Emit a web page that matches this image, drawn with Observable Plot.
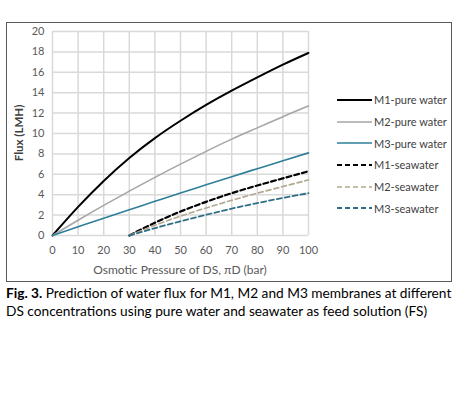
<!DOCTYPE html>
<html><head><meta charset="utf-8">
<script src="https://cdn.jsdelivr.net/npm/d3@7"></script>
<script src="https://cdn.jsdelivr.net/npm/@observablehq/plot@0.6"></script>
<style>
html,body{margin:0;padding:0;background:#fff;}
body{width:458px;height:393px;position:relative;overflow:hidden;font-family:Lato,"Open Sans",sans-serif;}
#box{position:absolute;left:6px;top:22px;width:444px;height:258px;border:1px solid #5a5a5a;}
#chart{position:absolute;left:0;top:0;}
#ylab{position:absolute;left:18px;top:133px;transform:translate(-50%,-50%) rotate(-90deg);font-weight:bold;font-size:11.5px;color:#404040;white-space:nowrap;}
#xlab{position:absolute;left:180px;top:269px;transform:translate(-50%,-50%);font-size:12px;color:#595959;white-space:nowrap;}
#legend{position:absolute;left:337px;top:89px;font-size:11px;color:#404040;}
.li{height:21.7px;display:flex;align-items:center;}
.li svg{margin-right:2px;}
#cap{position:absolute;left:6px;top:284px;font-size:13.7px;line-height:18px;color:#000;white-space:nowrap;}
</style></head><body>
<div id="chart"></div>
<div id="box"></div>
<div id="ylab">Flux (LMH)</div>
<div id="xlab">Osmotic Pressure of DS, πD (bar)</div>
<div id="legend"></div>
<div id="cap"><b>Fig. 3.</b> Prediction of water flux for M1, M2 and M3 membranes at different<br>DS concentrations using pure water and seawater as feed solution (FS)</div>
<script>
const xPure = [0,10,20,30,40,50,60,70,80,90,100];
const xSea = [30,40,50,60,70,80,90,100];
const m1Pure = [0,2.8,5.35,7.6,9.55,11.25,12.8,14.2,15.5,16.75,17.9];
const m2Pure = [0,1.5,2.95,4.35,5.7,7.0,8.25,9.45,10.55,11.65,12.7];
const m3Pure = [0,0.85,1.7,2.53,3.35,4.17,4.97,5.77,6.55,7.33,8.1];
const m1Sea = [0,1.25,2.35,3.3,4.15,4.9,5.6,6.3];
const m2Sea = [0,1.0,1.9,2.7,3.45,4.15,4.8,5.45];
const m3Sea = [0,0.72,1.4,2.03,2.63,3.18,3.68,4.15];
const xTicks = [0,10,20,30,40,50,60,70,80,90,100];
const yTicks = [0,2,4,6,8,10,12,14,16,18,20];
const seriesNames = ["M1-pure water","M2-pure water","M3-pure water","M1-seawater","M2-seawater","M3-seawater"];

const styles = [
  {stroke:"#000000", width:2, dash:null},
  {stroke:"#a6a6a6", width:1.6, dash:null},
  {stroke:"#2e7f99", width:1.6, dash:null},
  {stroke:"#000000", width:2.2, dash:"5,3"},
  {stroke:"#b3a890", width:1.6, dash:"5,3"},
  {stroke:"#2f6f86", width:1.8, dash:"5,3"}
];
const xsFor = [xPure,xPure,xPure,xSea,xSea,xSea];
const ysFor = [m1Pure,m2Pure,m3Pure,m1Sea,m2Sea,m3Sea];
const data = seriesNames.map((n,i)=>xsFor[i].map((x,j)=>({x, y: ysFor[i][j], series:n})));

const marks = [
  Plot.gridX(xTicks, {stroke:"#d9d9d9", strokeOpacity:1, strokeWidth:1.5}),
  Plot.gridY(yTicks, {stroke:"#d9d9d9", strokeOpacity:1, strokeWidth:1.5}),
  Plot.axisX(xTicks, {tickSize:0, tickPadding:11, label:null, fontSize:11}),
  Plot.axisY(yTicks, {tickSize:0, tickPadding:8, label:null, fontSize:11}),
];
data.forEach((d,i)=>{
  const s = styles[i];
  const opts = {x:"x", y:"y", stroke:s.stroke, strokeWidth:s.width, curve:"natural"};
  if (s.dash) opts.strokeDasharray = s.dash;
  marks.push(Plot.line(d, opts));
});

const chart = Plot.plot({
  width:458, height:290,
  marginLeft:52, marginRight:150, marginTop:31, marginBottom:55,
  x:{domain:[0,100]}, y:{domain:[0,20]},
  style:{fontFamily:"Lato, 'Open Sans', sans-serif", color:"#595959", background:"transparent"},
  marks
});
document.getElementById("chart").appendChild(chart);

const leg = document.getElementById("legend");
seriesNames.forEach((n,i)=>{
  const s = styles[i];
  const row = document.createElement("div"); row.className="li";
  row.innerHTML = `<svg width="35" height="6"><line x1="0" y1="3" x2="35" y2="3" stroke="${s.stroke}" stroke-width="${s.width}" ${s.dash?`stroke-dasharray="${s.dash}"`:""}/></svg><span>${n}</span>`;
  leg.appendChild(row);
});
</script>
</body></html>
